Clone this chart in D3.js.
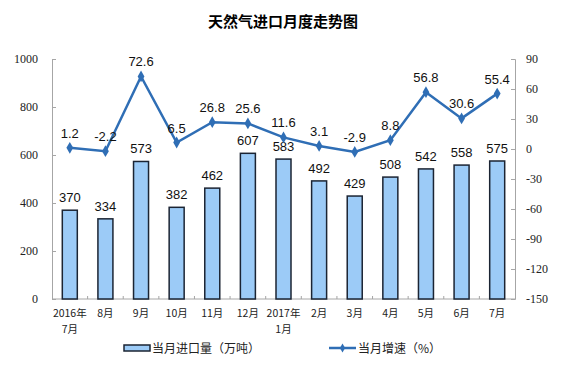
<!DOCTYPE html>
<html>
<head>
<meta charset="utf-8">
<script src="https://cdn.jsdelivr.net/npm/d3@7"></script>
<style>
  body { margin: 0; background: #fff; }
  svg { display: block; }
</style>
</head>
<body>
<svg id="chart" width="573" height="371"></svg>
<script>
// data
const months = ["2016年\n7月", "8月", "9月", "10月", "11月", "12月", "2017年\n1月", "2月", "3月", "4月", "5月", "6月", "7月"];
const imports = [370, 334, 573, 382, 462, 607, 583, 492, 429, 508, 542, 558, 575];
const growth = [1.2, -2.2, 72.6, 6.5, 26.8, 25.6, 11.6, 3.1, -2.9, 8.8, 56.8, 30.6, 55.4];
const leftTicks = [0, 200, 400, 600, 800, 1000];
const rightTicks = [-150, -120, -90, -60, -30, 0, 30, 60, 90];

const svg = d3.select("#chart");
const plotLeft = 52, plotRight = 515, plotTop = 59, plotBottom = 299;
const axisColor = "#a6a6a6";
const lineColor = "#2f6eb5";
const cjk = "'Noto Sans CJK SC', sans-serif";
const serif = "'Liberation Serif', 'Times New Roman', serif";

const x = d3.scaleBand().domain(d3.range(months.length)).range([plotLeft, plotRight]);
const yL = d3.scaleLinear().domain([0, 1000]).range([plotBottom, plotTop]);
const yR = d3.scaleLinear().domain([-150, 90]).range([plotBottom, plotTop]);

// title
svg.append("text")
    .attr("x", 283).attr("y", 27)
    .attr("text-anchor", "middle")
    .style("font-family", cjk)
    .style("font-size", "15px")
    .style("font-weight", "bold")
    .text("天然气进口月度走势图");

// left axis
const axL = svg.append("g")
    .attr("transform", `translate(${plotLeft},0)`)
    .call(d3.axisLeft(yL).tickValues(leftTicks).tickFormat(d => String(d)).tickSize(-4).tickPadding(14));
axL.attr("font-family", serif).attr("font-size", 12);
axL.select(".domain").attr("stroke", axisColor);
axL.selectAll(".tick line").attr("stroke", axisColor);
axL.selectAll("text").attr("fill", "#222");

// right axis
const axR = svg.append("g")
    .attr("transform", `translate(${plotRight},0)`)
    .call(d3.axisRight(yR).tickValues(rightTicks).tickFormat(d => String(d)).tickSize(-4).tickPadding(11));
axR.attr("font-family", serif).attr("font-size", 12);
axR.select(".domain").attr("stroke", axisColor);
axR.selectAll(".tick line").attr("stroke", axisColor);
axR.selectAll("text").attr("fill", "#222");

// x baseline with small ticks between categories
svg.append("line")
    .attr("x1", plotLeft).attr("x2", plotRight)
    .attr("y1", plotBottom).attr("y2", plotBottom)
    .attr("stroke", axisColor);
svg.selectAll(".xtick")
    .data(d3.range(1, months.length))
    .join("line")
    .attr("x1", d => x(d)).attr("x2", d => x(d))
    .attr("y1", plotBottom).attr("y2", plotBottom - 3)
    .attr("stroke", axisColor);

// x labels
svg.selectAll(".xlab")
    .data(months)
    .join("text")
    .attr("text-anchor", "middle")
    .style("font-family", cjk)
    .style("font-size", "10.5px")
    .attr("fill", "#222")
    .each(function(d, i) {
        const parts = d.split("\n");
        parts.forEach((p, k) => {
            d3.select(this).append("tspan")
                .attr("x", x(i) + x.bandwidth() / 2)
                .attr("y", 317 + k * 16)
                .text(p);
        });
    });

// bars
const bw = 15;
svg.selectAll(".bar")
    .data(imports)
    .join("rect")
    .attr("x", (d, i) => x(i) + x.bandwidth() / 2 - bw / 2)
    .attr("y", d => yL(d))
    .attr("width", bw)
    .attr("height", d => plotBottom - yL(d))
    .attr("fill", "#9ccbf7")
    .attr("stroke", "#1b2433")
    .attr("stroke-width", 1.5);

svg.selectAll(".barlab")
    .data(imports)
    .join("text")
    .attr("x", (d, i) => x(i) + x.bandwidth() / 2)
    .attr("y", d => yL(d) - 8)
    .attr("text-anchor", "middle")
    .style("font-family", "'Liberation Sans', Arial, sans-serif")
    .style("font-size", "13px")
    .attr("fill", "#111")
    .text(d => d);

// growth line
const line = d3.line()
    .x((d, i) => x(i) + x.bandwidth() / 2)
    .y(d => yR(d));
svg.append("path")
    .datum(growth)
    .attr("d", line)
    .attr("fill", "none")
    .attr("stroke", lineColor)
    .attr("stroke-width", 2.5);

const diamond = d3.symbol().type(d3.symbolDiamond).size(40);
svg.selectAll(".pt")
    .data(growth)
    .join("path")
    .attr("d", diamond)
    .attr("transform", (d, i) => `translate(${x(i) + x.bandwidth() / 2},${yR(d)})`)
    .attr("fill", lineColor);

svg.selectAll(".ptlab")
    .data(growth)
    .join("text")
    .attr("x", (d, i) => x(i) + x.bandwidth() / 2)
    .attr("y", d => yR(d) - 10)
    .attr("text-anchor", "middle")
    .style("font-family", "'Liberation Sans', Arial, sans-serif")
    .style("font-size", "13px")
    .attr("fill", "#111")
    .text(d => d.toFixed(1));

// legend
const lg = svg.append("g").attr("transform", "translate(0,348)");
lg.append("rect")
    .attr("x", 124).attr("y", -3).attr("width", 26).attr("height", 6)
    .attr("fill", "#9ccbf7").attr("stroke", "#1b2433").attr("stroke-width", 1.5);
lg.append("text")
    .attr("x", 152).attr("y", 4.5)
    .style("font-family", cjk).style("font-size", "12px").attr("fill", "#222")
    .text("当月进口量（万吨）");
lg.append("line")
    .attr("x1", 329).attr("x2", 356).attr("y1", 0).attr("y2", 0)
    .attr("stroke", lineColor).attr("stroke-width", 2.5);
lg.append("path")
    .attr("d", d3.symbol().type(d3.symbolDiamond).size(24))
    .attr("transform", "translate(342.5,0)")
    .attr("fill", lineColor);
lg.append("text")
    .attr("x", 358).attr("y", 4.5)
    .style("font-family", cjk).style("font-size", "12px").attr("fill", "#222")
    .text("当月增速（%）");
</script>
</body>
</html>
